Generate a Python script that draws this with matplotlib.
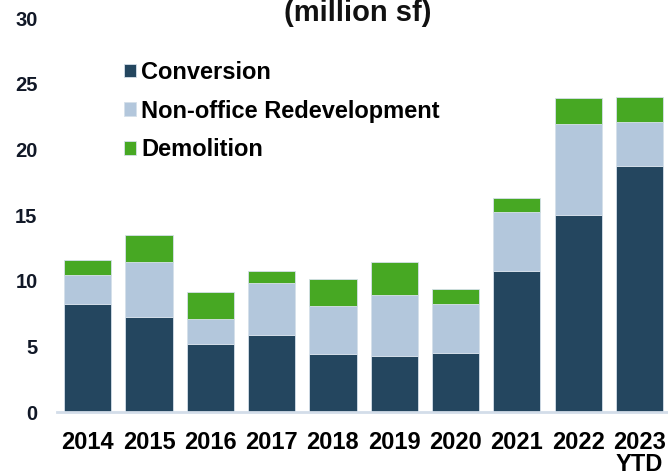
import matplotlib
matplotlib.use('Agg')
import matplotlib.pyplot as plt
import numpy as np

plt.rcParams['font.family'] = ['Liberation Sans', 'DejaVu Sans']
plt.rcParams['font.weight'] = 'bold'

# ── Data (million sf) ────────────────────────────────────────
years = ['2014', '2015', '2016', '2017', '2018', '2019', '2020', '2021', '2022', '2023\nYTD']
conversion = [8.2, 7.2, 5.2, 5.9, 4.4, 4.3, 4.5, 10.7, 15.0, 18.7]
non_office = [2.2, 4.2, 1.9, 3.9, 3.7, 4.6, 3.7, 4.5, 6.9, 3.4]
demolition = [1.2, 2.1, 2.0, 0.9, 2.0, 2.5, 1.2, 1.1, 2.0, 1.9]

c_conv = '#24465f'
c_non = '#b3c7dc'
c_demo = '#47a823'

fig = plt.figure(figsize=(6.68, 4.75), dpi=100)
ax = fig.add_axes([0.0853, 0.1326, 0.9147, 0.8295])

x = np.arange(len(years))
w = 0.77
edge = dict(edgecolor='#d5e0ea', linewidth=0.6)
ax.bar(x, conversion, w, color=c_conv, label='Conversion', **edge)
bottom2 = np.array(conversion)
ax.bar(x, non_office, w, bottom=bottom2, color=c_non, label='Non-office Redevelopment', **edge)
bottom3 = bottom2 + np.array(non_office)
ax.bar(x, demolition, w, bottom=bottom3, color=c_demo, label='Demolition', **edge)

ax.set_xlim(-0.5, 9.465)
ax.set_ylim(0, 30)
ax.set_yticks(range(0, 31, 5))
ax.set_xticks(x)
ax.set_xticklabels(years)

for s in ['top', 'right', 'left']:
    ax.spines[s].set_visible(False)
ax.spines['bottom'].set_color('#d3dde9')
ax.spines['bottom'].set_linewidth(2)

ax.tick_params(axis='x', length=0, pad=14, labelsize=17, labelcolor='#000000')
ax.tick_params(axis='y', length=0, pad=14, labelsize=14.5, labelcolor='#111827')
for lbl in ax.get_xticklabels():
    lbl.set_linespacing(0.9)

ax.legend(loc='upper left', bbox_to_anchor=(0.186, 0.872), bbox_transform=fig.transFigure,
          frameon=False, fontsize=17, handlelength=0.51, handleheight=0.51,
          handletextpad=0.22, labelspacing=0.67, borderaxespad=0, borderpad=0)

fig.text(0.536, 0.956, '(million sf)', ha='center', va='baseline',
         fontsize=21, fontweight='bold', color='#111111')

fig.savefig('out.png', dpi=100)
plt.close(fig)
